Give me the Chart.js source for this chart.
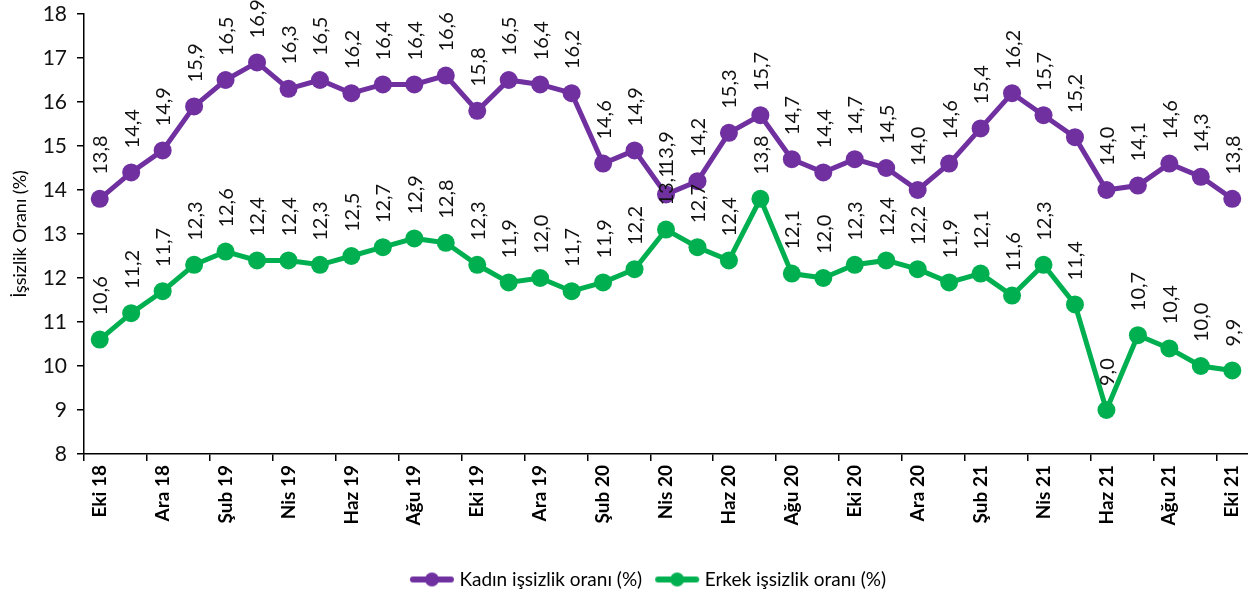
<!DOCTYPE html>
<html>
<head>
<meta charset="utf-8">
<script src="https://cdn.jsdelivr.net/npm/chart.js@4.4.1/dist/chart.umd.min.js"></script>
<style>
html,body{margin:0;padding:0;background:#fff;}
#wrap{width:1248px;height:600px;}
</style>
</head>
<body>
<div id="wrap"><canvas id="c" width="1248" height="600"></canvas></div>
<script>
const months = ["Eki 18","Kas 18","Ara 18","Oca 19","Şub 19","Mar 19","Nis 19","May 19","Haz 19","Tem 19","Ağu 19","Eyl 19",
"Eki 19","Kas 19","Ara 19","Oca 20","Şub 20","Mar 20","Nis 20","May 20","Haz 20","Tem 20","Ağu 20","Eyl 20",
"Eki 20","Kas 20","Ara 20","Oca 21","Şub 21","Mar 21","Nis 21","May 21","Haz 21","Tem 21","Ağu 21","Eyl 21","Eki 21"];
const women = [13.8,14.4,14.9,15.9,16.5,16.9,16.3,16.5,16.2,16.4,16.4,16.6,15.8,16.5,16.4,16.2,14.6,14.9,13.9,14.2,15.3,15.7,14.7,14.4,14.7,14.5,14.0,14.6,15.4,16.2,15.7,15.2,14.0,14.1,14.6,14.3,13.8];
const men = [10.6,11.2,11.7,12.3,12.6,12.4,12.4,12.3,12.5,12.7,12.9,12.8,12.3,11.9,12.0,11.7,11.9,12.2,13.1,12.7,12.4,13.8,12.1,12.0,12.3,12.4,12.2,11.9,12.1,11.6,12.3,11.4,9.0,10.7,10.4,10.0,9.9];
const seriesNames = ["Kadın işsizlik oranı (%)","Erkek işsizlik oranı (%)"];
const yTitle = "İşsizlik Oranı (%)";
const purple = "#7030A0", green = "#00B050";
const FONT = "Lato";

function legendIcon(color){
  const c = document.createElement('canvas');
  c.width = 46; c.height = 20;
  const g = c.getContext('2d');
  g.strokeStyle = color; g.lineWidth = 6; g.lineCap = 'round';
  g.beginPath(); g.moveTo(4,10); g.lineTo(42,10); g.stroke();
  g.fillStyle = color; g.beginPath(); g.arc(23,10,7,0,Math.PI*2); g.fill();
  return c;
}
const icons = [legendIcon(purple), legendIcon(green)];

const dataLabels = {
  id:'dataLabels',
  afterDatasetsDraw(chart){
    const ctx = chart.ctx;
    ctx.save();
    ctx.font = "20px " + FONT;
    ctx.fillStyle = "#111";
    ctx.textAlign = 'left';
    ctx.textBaseline = 'middle';
    chart.data.datasets.forEach((ds, di) => {
      const meta = chart.getDatasetMeta(di);
      meta.data.forEach((pt, i) => {
        ctx.save();
        ctx.translate(pt.x + 1, pt.y - 24);
        ctx.rotate(-Math.PI/2);
        ctx.fillText(ds.data[i].toFixed(1).replace('.', ','), 0, 0);
        ctx.restore();
      });
    });
    ctx.restore();
  }
};

const legendShift = {
  id:'legendShift',
  afterLayout(chart){
    if (chart.legend){ chart.legend.left += 24; chart.legend.right += 24; }
  }
};

new Chart(document.getElementById('c'), {
  type:'line',
  data:{
    labels: months,
    datasets:[
      {label: seriesNames[0], data: women, borderColor: purple, backgroundColor: purple, borderWidth:5, clip:false,
       pointRadius:9, pointHoverRadius:9, pointBackgroundColor: purple, pointBorderColor: purple, pointBorderWidth:0, pointStyle: 'circle', tension:0},
      {label: seriesNames[1], data: men, borderColor: green, backgroundColor: green, borderWidth:5, clip:false,
       pointRadius:9, pointHoverRadius:9, pointBackgroundColor: green, pointBorderColor: green, pointBorderWidth:0, pointStyle: 'circle', tension:0}
    ]
  },
  options:{
    responsive:false,
    animation:false,
    events:[],
    layout:{autoPadding:false, padding:{top:14, left:0, right:-4, bottom:1}},
    plugins:{
      tooltip:{enabled:false},
      legend:{
        position:'bottom',
        labels:{
          usePointStyle:true,
          pointStyleWidth:36,
          boxHeight:19,
          padding:17,
          color:'#000',
          font:{family:FONT, size:19},
          generateLabels(chart){
            return chart.data.datasets.map((ds,i)=>({
              text: ds.label, pointStyle: icons[i], fillStyle: ds.borderColor, strokeStyle: ds.borderColor,
              lineWidth:0, hidden:false, datasetIndex:i, fontColor:'#000'
            }));
          }
        }
      }
    },
    scales:{
      x:{
        type:'category',
        offset:true,
        afterFit(s){ s.height = 99; s.paddingRight = 0; s.paddingLeft = 0; },
        grid:{display:true, drawOnChartArea:false, drawTicks:true, tickLength:7, offset:true, lineWidth:1.5,
          color: c => (c.index !== undefined && c.index % 2 === 0) ? '#000' : 'rgba(0,0,0,0)'},
        border:{display:true, color:'#000', width:1.5},
        ticks:{
          autoSkip:false, maxRotation:90, minRotation:90, padding:4,
          color:'#000', font:{family:FONT, size:19, weight:'bold'},
          callback(v, i){ return i % 2 === 0 ? months[i] : ''; }
        }
      },
      y:{
        min:8, max:18,
        afterFit(s){ s.width = 84; s.paddingTop = 0; s.paddingBottom = 0; },
        grid:{display:true, drawOnChartArea:false, drawTicks:true, tickLength:7, color:'#000', lineWidth:1.5},
        border:{display:true, color:'#000', width:1.5},
        ticks:{stepSize:1, padding:10, color:'#111', font:{family:FONT, size:21}},
        title:{display:true, text:yTitle, color:'#000', font:{family:FONT, size:18}, padding:{top:9,bottom:0}}
      }
    }
  },
  plugins:[dataLabels, legendShift]
});
</script>
</body>
</html>
